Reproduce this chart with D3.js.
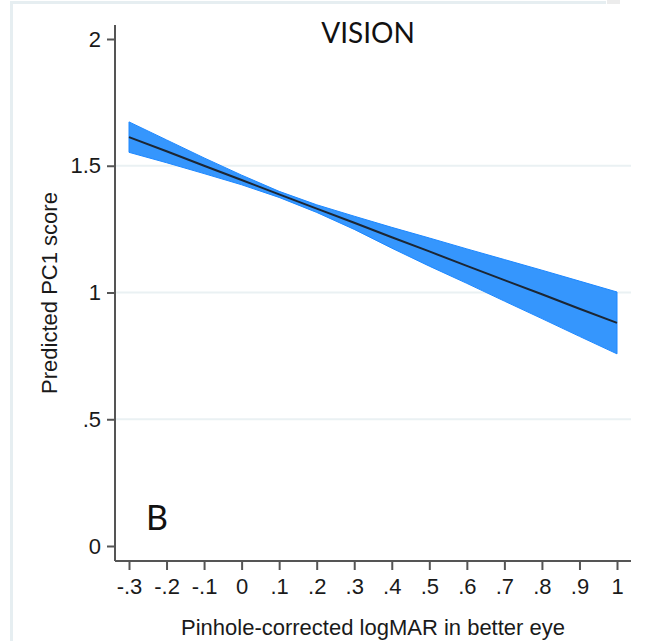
<!DOCTYPE html>
<html>
<head>
<meta charset="utf-8">
<script src="https://cdn.jsdelivr.net/npm/d3@7"></script>
<style>
  body { margin: 0; background: #fff; }
  svg { display: block; }
  .axis text { font-family: "Liberation Sans", Arial, sans-serif; font-size: 22px; fill: #1a1a1a; }
  .axis path, .axis line { stroke: #555; stroke-width: 2; }
</style>
</head>
<body>
<div id="chart"></div>
<script>
var xValues = [-0.3, -0.2, -0.1, 0, 0.1, 0.2, 0.3, 0.4, 0.5, 0.6, 0.7, 0.8, 0.9, 1];
var predicted = [1.613, 1.557, 1.500, 1.444, 1.387, 1.331, 1.275, 1.218, 1.162, 1.105, 1.049, 0.993, 0.936, 0.880];
var upperCI = [1.673, 1.602, 1.531, 1.463, 1.399, 1.346, 1.301, 1.257, 1.215, 1.172, 1.130, 1.088, 1.045, 1.002];
var lowerCI = [1.553, 1.512, 1.469, 1.425, 1.375, 1.316, 1.249, 1.175, 1.104, 1.036, 0.966, 0.897, 0.827, 0.758];

var xTicks = [-0.3, -0.2, -0.1, 0, 0.1, 0.2, 0.3, 0.4, 0.5, 0.6, 0.7, 0.8, 0.9, 1];
var yTicks = [0, 0.5, 1, 1.5, 2];
var gridTicks = [0.5, 1, 1.5];

var width = 651, height = 641;

var svg = d3.select('#chart').append('svg')
  .attr('width', width)
  .attr('height', height);

// faint outer frame of the graph region
svg.append('line')
  .attr('x1', 10).attr('x2', 606).attr('y1', 2.5).attr('y2', 2.5)
  .attr('stroke', '#e6eef1').attr('stroke-width', 3);
svg.append('line')
  .attr('x1', 11.5).attr('x2', 11.5).attr('y1', 2).attr('y2', height)
  .attr('stroke', '#e6eef1').attr('stroke-width', 3);
svg.append('rect')
  .attr('x', 607).attr('y', 0).attr('width', 13).attr('height', 4)
  .attr('fill', '#ececec');

var plot = { left: 115, right: 631, top: 25, bottom: 561 };

var x = d3.scaleLinear()
  .domain([-0.3, 1])
  .range([129, 617]);

var y = d3.scaleLinear()
  .domain([0, 2])
  .range([546, 39]);

// Stata style numbers: no leading zero
function stataFmt(d) {
  return String(+d.toFixed(2)).replace(/^(-?)0\./, '$1.');
}

// gridlines
svg.append('g')
  .selectAll('line')
  .data(gridTicks)
  .enter()
  .append('line')
  .attr('x1', plot.left)
  .attr('x2', plot.right)
  .attr('y1', function (d) { return y(d); })
  .attr('y2', function (d) { return y(d); })
  .attr('stroke', '#eaf1f3')
  .attr('stroke-width', 2);

// confidence band
var area = d3.area()
  .x(function (d) { return x(d.x); })
  .y0(function (d) { return y(d.lo); })
  .y1(function (d) { return y(d.hi); });

var bandData = xValues.map(function (v, i) {
  return { x: v, lo: lowerCI[i], hi: upperCI[i] };
});

svg.append('path')
  .datum(bandData)
  .attr('d', area)
  .attr('fill', '#3596fd')
  .attr('stroke', '#1e88ff')
  .attr('stroke-width', 1);

// predicted line
var line = d3.line()
  .x(function (d, i) { return x(xValues[i]); })
  .y(function (d) { return y(d); });

svg.append('path')
  .datum(predicted)
  .attr('d', line)
  .attr('fill', 'none')
  .attr('stroke', '#1c2633')
  .attr('stroke-width', 2);

// y axis
var yAxis = svg.append('g')
  .attr('class', 'axis')
  .attr('transform', 'translate(' + plot.left + ',0)')
  .call(d3.axisLeft(y).tickValues(yTicks).tickFormat(stataFmt).tickSize(8).tickPadding(6));
yAxis.select('.domain')
  .attr('d', 'M0,' + plot.top + 'V' + plot.bottom);

// x axis
var xAxis = svg.append('g')
  .attr('class', 'axis')
  .attr('transform', 'translate(0,' + plot.bottom + ')')
  .call(d3.axisBottom(x).tickValues(xTicks).tickFormat(stataFmt).tickSize(9).tickPadding(8));
xAxis.select('.domain')
  .attr('d', 'M' + plot.left + ',0H' + plot.right);

// axis titles
svg.append('text')
  .attr('x', 373)
  .attr('y', 635)
  .attr('text-anchor', 'middle')
  .style('font-family', '"Liberation Sans", Arial, sans-serif')
  .style('font-size', '22px')
  .attr('fill', '#1a1a1a')
  .text('Pinhole-corrected logMAR in better eye');

svg.append('text')
  .attr('transform', 'translate(57,293) rotate(-90)')
  .attr('text-anchor', 'middle')
  .style('font-family', '"Liberation Sans", Arial, sans-serif')
  .style('font-size', '22px')
  .attr('fill', '#1a1a1a')
  .text('Predicted PC1 score');

// panel title and letter
svg.append('text')
  .attr('x', 368)
  .attr('y', 43)
  .attr('text-anchor', 'middle')
  .style('font-family', 'Lato, "Open Sans", sans-serif')
  .style('font-size', '28px')
  .attr('fill', '#111')
  .text('VISION');

svg.append('text')
  .attr('x', 146)
  .attr('y', 530)
  .style('font-family', 'Lato, "Open Sans", sans-serif')
  .style('font-size', '34px')
  .attr('fill', '#111')
  .text('B');
</script>
</body>
</html>
